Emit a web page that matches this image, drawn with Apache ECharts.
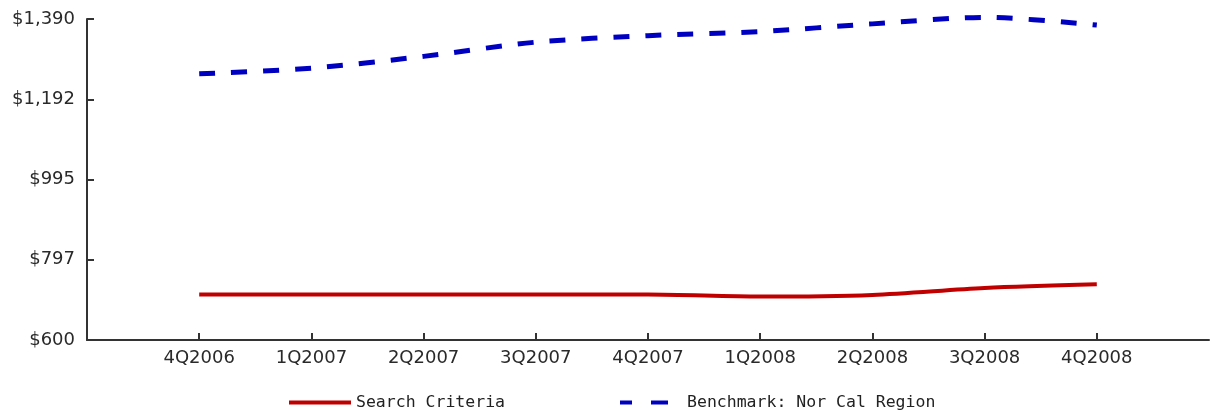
<!DOCTYPE html>
<html>
<head>
<meta charset="utf-8">
<script src="https://cdn.jsdelivr.net/npm/echarts@6/dist/echarts.min.js"></script>
<style>
html,body{margin:0;padding:0;background:#fff;}
#chart{width:1212px;height:410px;}
</style>
</head>
<body>
<div id="chart"></div>
<script>
var categories = ['', '4Q2006', '1Q2007', '2Q2007', '3Q2007', '4Q2007', '1Q2008', '2Q2008', '3Q2008', '4Q2008', ''];
var searchCriteria = [null, 712, 712, 712, 712, 712, 707, 711, 728, 737, null];
var benchmark = [null, 1255, 1269, 1298, 1333, 1349, 1359, 1378, 1394, 1375, null];
var yTickValues = [600, 797.5, 995, 1192.5, 1390];
var yTickLabels = ['$600', '$797', '$995', '$1,192', '$1,390'];
var seriesNames = ['Search Criteria', 'Benchmark: Nor Cal Region'];

var chart = echarts.init(document.getElementById('chart'), null, {renderer: 'canvas'});
chart.setOption({
  animation: false,
  backgroundColor: '#ffffff',
  grid: {left: 87, right: 2, top: 19, bottom: 70},
  legend: {
    left: 284,
    top: 389,
    itemWidth: 62,
    itemHeight: 4,
    itemGap: 115,
    textStyle: {fontFamily: 'DejaVu Sans Mono', fontSize: 16.5, color: '#222'},
    data: [
      {name: seriesNames[0], icon: 'rect'},
      {name: seriesNames[1], icon: 'path://M0,0H12V4H0Z M31,0H48V4H31Z M62,0V4'}
    ]
  },
  xAxis: {
    type: 'category',
    data: categories,
    boundaryGap: false,
    axisLine: {lineStyle: {color: '#333', width: 2}},
    axisTick: {
      inside: true, length: 7,
      lineStyle: {color: '#333', width: 2},
      interval: function (i, v) { return v !== ''; }
    },
    axisLabel: {
      interval: 0, margin: 9,
      fontFamily: 'DejaVu Sans', fontSize: 18, color: '#2a2a2a'
    },
    splitLine: {show: false}
  },
  yAxis: {
    type: 'value',
    min: 600,
    max: 1390,
    axisLine: {show: true, lineStyle: {color: '#333', width: 2}},
    axisTick: {show: true, inside: true, length: 7, lineStyle: {color: '#333', width: 2}, customValues: yTickValues},
    axisLabel: {
      margin: 12,
      fontFamily: 'DejaVu Sans', fontSize: 18, color: '#2a2a2a',
      customValues: yTickValues,
      formatter: function (v) {
        var i = yTickValues.indexOf(v);
        return i >= 0 ? yTickLabels[i] : '';
      }
    },
    splitLine: {show: false}
  },
  series: [
    {
      name: seriesNames[0],
      type: 'line',
      data: searchCriteria,
      smooth: 0.3,
      symbol: 'none',
      clip: false,
      color: '#c00000',
      lineStyle: {color: '#c00000', width: 4}
    },
    {
      name: seriesNames[1],
      type: 'line',
      data: benchmark,
      smooth: 0.3,
      symbol: 'none',
      clip: false,
      color: '#0000c0',
      lineStyle: {color: '#0000c0', width: 5, type: [16, 16]}
    }
  ]
});
</script>
</body>
</html>
